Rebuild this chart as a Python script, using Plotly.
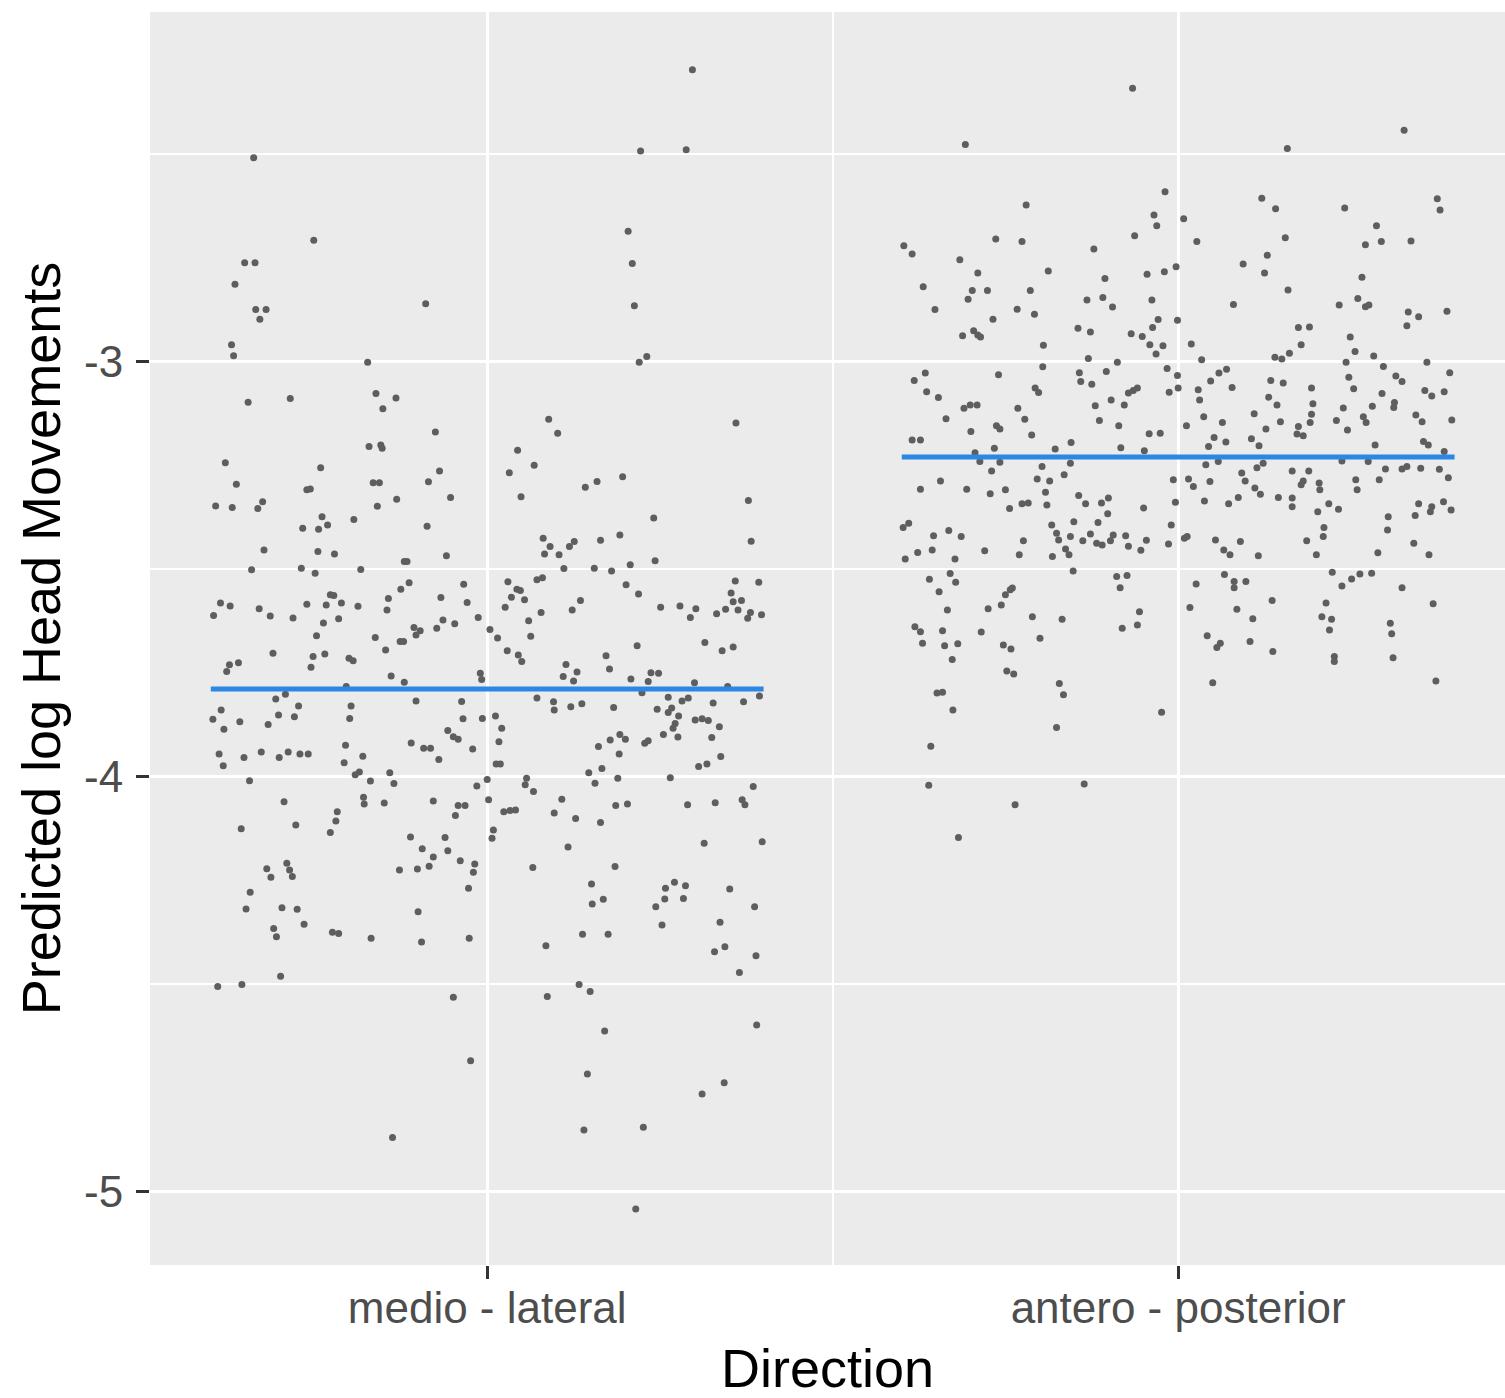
import plotly.graph_objects as go

# Categories on the x axis and the fitted (model) mean for each
directions = ["medio - lateral", "antero - posterior"]
fitted_means = [-3.788, -3.229]
fit_half_width = 0.4

y_ticks = [-5, -4, -3]
y_tick_labels = ["-5", "-4", "-3"]

# medio - lateral: horizontal jitter offset and predicted value per subject
ml_jitter = [
    -0.338, -0.251, -0.351, -0.336, -0.365, -0.335, -0.320, -0.329, -0.089, 0.297, 0.222, 0.288, 0.204, 0.210, 0.213,
    -0.370, -0.367, -0.173, -0.346, -0.285, -0.161, -0.132, -0.151, -0.075, -0.171,
    -0.154, -0.152, -0.379, -0.241, -0.069, -0.363, -0.261, -0.256, -0.165, -0.156,
    -0.085, -0.053, -0.393, -0.369, -0.332, -0.325, -0.159, -0.131, -0.239, -0.231,
    -0.267, -0.244, -0.193, -0.087, -0.323, -0.245, -0.221, -0.120, -0.116, -0.059,
    -0.341, -0.269, -0.249, -0.183, -0.113, -0.125, -0.034, -0.386, -0.372, -0.396,
    -0.330, -0.314, -0.281, -0.261, -0.227, -0.222, -0.233, -0.211, -0.187, -0.143,
    -0.145, -0.237, -0.215, -0.247, -0.162, -0.126, -0.121, -0.106, -0.097, -0.103,
    -0.067, -0.029, -0.073, -0.064, -0.047, -0.013,
    0.220, 0.231, 0.089, 0.102, 0.044, 0.068, 0.032, 0.049, 0.142, 0.159,
    0.196, 0.360, 0.378, 0.241, 0.382, 0.081, 0.091, 0.083, 0.104, 0.119,
    0.126, 0.164, 0.192, 0.111, 0.155, 0.180, 0.207, 0.243, 0.072, 0.080,
    0.030, 0.043, 0.048, 0.035, 0.054, 0.026, 0.078, 0.060, 0.123, 0.135,
    0.201, 0.219, 0.251, 0.279, 0.302, 0.294, 0.332, 0.359, 0.393, 0.353,
    0.356, 0.368, 0.345, 0.363, 0.381, 0.377, 0.397, 0.004, 0.015, 0.063,
    -0.310, -0.252, -0.255, -0.235, -0.200, -0.194, -0.147, -0.377, -0.373, -0.360,
    -0.139, -0.120, -0.010, -0.008, -0.306, -0.292, -0.204, -0.103, -0.037, -0.385,
    -0.397, -0.358, -0.381, -0.302, -0.273, -0.279, -0.317, -0.197, -0.199, -0.035,
    -0.007, -0.057, -0.049, -0.042, -0.205, -0.110, -0.092, -0.082, -0.070, -0.021,
    -0.388, -0.382, -0.352, -0.327, -0.301, -0.288, -0.271, -0.259, -0.180, -0.207,
    -0.191, -0.185, -0.169, -0.141, -0.135, -0.344, -0.015, -0.294, -0.179, -0.178,
    -0.149, -0.078, -0.042, -0.032, -0.046, -0.217, -0.219, -0.227, -0.277, -0.356,
    -0.111, -0.061, -0.094, -0.057, -0.078, -0.084, -0.101, -0.127, -0.039, -0.018,
    -0.020, -0.319, -0.313, -0.290, -0.286, -0.282, -0.343, -0.027, -0.349, -0.297,
    -0.275, -0.265, -0.100, -0.309, -0.305, -0.224, -0.215, -0.168, -0.026,
    0.029, 0.045, 0.050, 0.217, 0.172, 0.177, 0.114, 0.110, 0.125, 0.130,
    0.208, 0.237, 0.248, 0.233, 0.315, 0.340, 0.356, 0.300, 0.348, 0.224,
    0.072, 0.096, 0.097, 0.121, 0.137, 0.183, 0.262, 0.282, 0.291, 0.327,
    0.371, 0.394, 0.246, 0.262, 0.267, 0.277, 0.272, 0.269, 0.301, 0.311,
    0.320, 0.336, 0.255, 0.276, 0.325, 0.012, 0.021, 0.017, 0.013, 0.019,
    0.161, 0.178, 0.192, 0.200, 0.191, 0.228, 0.233, 0.306, 0.318, 0.338,
    0.147, 0.166, 0.156, 0.189, 0.265, 0.057, 0.055, 0.067, 0.000, 0.002,
    0.024, 0.033, 0.041, 0.108, 0.097, 0.128, 0.164, 0.186, 0.203, 0.290,
    0.330, 0.369, 0.373, 0.385, 0.009, 0.007, 0.117, 0.314, 0.398, 0.066,
    0.185, 0.151, 0.152, 0.168, 0.258, 0.271, 0.287, 0.257, 0.284, 0.244,
    0.351, 0.387, 0.253, 0.337, 0.138, 0.175,
    -0.095, -0.390, -0.355, -0.299, -0.049, -0.024, -0.137, 0.085, 0.329, 0.344,
    0.389, 0.365, 0.133, 0.149, 0.087, 0.170, 0.390, 0.145, 0.311, 0.343,
    0.140, 0.226, 0.215,
]
ml_value = [
    -2.508, -2.707, -2.761, -2.761, -2.813, -2.874, -2.874, -2.897, -2.860, -2.296, -2.492, -2.489, -2.685, -2.763, -2.865,
    -2.959, -2.985, -3.001, -3.097, -3.088, -3.076, -3.087, -3.113, -3.169, -3.204,
    -3.200, -3.208, -3.243, -3.255, -3.263, -3.295, -3.308, -3.306, -3.291, -3.291,
    -3.289, -3.327, -3.347, -3.351, -3.353, -3.337, -3.348, -3.331, -3.373, -3.393,
    -3.401, -3.403, -3.380, -3.396, -3.453, -3.457, -3.463, -3.481, -3.481, -3.467,
    -3.501, -3.497, -3.509, -3.500, -3.532, -3.548, -3.536, -3.581, -3.588, -3.611,
    -3.595, -3.612, -3.617, -3.584, -3.561, -3.563, -3.586, -3.581, -3.589, -3.570,
    -3.598, -3.629, -3.619, -3.660, -3.664, -3.674, -3.674, -3.640, -3.648, -3.658,
    -3.568, -3.580, -3.642, -3.622, -3.631, -3.616,
    -3.001, -2.987, -3.138, -3.172, -3.213, -3.249, -3.267, -3.325, -3.302, -3.288,
    -3.277, -3.147, -3.334, -3.376, -3.432, -3.425, -3.445, -3.463, -3.465, -3.445,
    -3.433, -3.430, -3.417, -3.498, -3.497, -3.504, -3.489, -3.479, -3.525, -3.520,
    -3.530, -3.548, -3.551, -3.567, -3.573, -3.591, -3.604, -3.624, -3.598, -3.575,
    -3.537, -3.559, -3.591, -3.588, -3.595, -3.616, -3.607, -3.528, -3.531, -3.557,
    -3.578, -3.575, -3.596, -3.598, -3.604, -3.618, -3.609, -3.645, -3.665, -3.661,
    -3.702, -3.710, -3.736, -3.704, -3.714, -3.720, -3.694, -3.746, -3.730, -3.725,
    -3.757, -3.772, -3.750, -3.765, -3.812, -3.801, -3.782, -3.817, -3.818, -3.839,
    -3.861, -3.867, -3.885, -3.851, -3.829, -3.855, -3.874, -3.829, -3.859, -3.860,
    -3.859, -3.888, -3.903, -3.909, -3.924, -3.918, -3.931, -3.931, -3.958, -3.933,
    -3.945, -3.973, -3.953, -3.940, -3.953, -3.940, -3.945, -3.945, -3.950, -3.966,
    -3.995, -3.988, -4.010, -3.990, -4.016, -4.009, -4.022, -4.060, -4.049, -4.065,
    -4.063, -4.058, -4.069, -4.069, -4.093, -4.084, -4.106, -4.134, -4.116, -4.125,
    -4.145, -4.146, -4.173, -4.178, -4.193, -4.215, -4.222, -4.224, -4.202, -4.210,
    -4.230, -4.221, -4.242, -4.208, -4.224, -4.240, -4.278, -4.268, -4.318, -4.315,
    -4.319, -4.355, -4.325, -4.365, -4.385, -4.374, -4.377, -4.389, -4.389,
    -3.696, -3.706, -3.722, -3.684, -3.708, -3.740, -3.729, -3.758, -3.769, -3.747,
    -3.764, -3.749, -3.750, -3.770, -3.676, -3.696, -3.687, -3.773, -3.782, -3.797,
    -3.810, -3.819, -3.839, -3.831, -3.824, -3.833, -3.808, -3.817, -3.810, -3.822,
    -3.819, -3.805, -3.837, -3.845, -3.834, -3.853, -3.871, -3.883, -3.863, -3.860,
    -3.864, -3.879, -3.898, -3.904, -3.905, -3.853, -3.883, -3.915, -3.969, -3.969,
    -3.927, -3.911, -3.898, -3.909, -3.945, -3.919, -3.913, -3.975, -3.969, -3.951,
    -3.990, -3.980, -4.015, -4.003, -4.002, -4.003, -4.019, -4.035, -4.006, -4.055,
    -4.084, -4.081, -4.080, -4.054, -4.087, -4.100, -4.110, -4.069, -4.065, -4.067,
    -4.062, -4.055, -4.067, -4.023, -4.128, -4.148, -4.169, -4.160, -4.156, -4.218,
    -4.216, -4.258, -4.306, -4.295, -4.268, -4.254, -4.262, -4.294, -4.293, -4.313,
    -4.270, -4.313, -4.357, -4.350, -4.379, -4.379,
    -4.398, -4.505, -4.500, -4.480, -4.531, -4.684, -4.869, -4.407, -4.421, -4.409,
    -4.431, -4.471, -4.500, -4.517, -4.529, -4.612, -4.598, -4.716, -4.764, -4.737,
    -4.851, -4.844, -5.041,
]

# antero - posterior: horizontal jitter offset and predicted value per subject
ap_jitter = [
    -0.066, -0.308, -0.019, -0.220, -0.035, -0.031, -0.063, -0.264, -0.226, -0.397,
    -0.385, -0.122, -0.316, -0.290, -0.188, -0.106, -0.045, -0.020, -0.003, -0.369,
    -0.298, -0.304, -0.276, -0.214, -0.132, -0.109, -0.095, -0.038, -0.352, -0.233,
    -0.208, -0.268, -0.001, -0.029, -0.037, -0.145, -0.127, -0.068, -0.052, -0.041,
    -0.022, -0.032, -0.312, -0.296, -0.290, -0.286, -0.195, -0.196, -0.130, -0.088,
    -0.016, -0.001, -0.366, -0.382, -0.260, -0.143, -0.141, -0.125, -0.104, -0.364,
    -0.347, -0.207, -0.202, -0.072, -0.065, -0.059, -0.013, 0.000, -0.310, -0.301,
    -0.291, -0.232, -0.120, -0.097, -0.078, -0.336, -0.222, -0.114, -0.263, -0.258,
    -0.300, -0.212, -0.086, -0.042, -0.026, -0.385, -0.373, -0.155, -0.294, -0.266,
    -0.178, -0.083, -0.049,
    0.327, 0.158, 0.121, 0.141, 0.241, 0.375, 0.379, 0.008, 0.027, 0.155,
    0.287, 0.271, 0.294, 0.337, 0.129, 0.094, 0.125, 0.266, 0.159, 0.260,
    0.271, 0.276, 0.080, 0.233, 0.333, 0.348, 0.331, 0.389, 0.174, 0.190,
    0.019, 0.249, 0.178, 0.140, 0.150, 0.161, 0.256, 0.283, 0.034, 0.243,
    0.297, 0.360, 0.059, 0.070, 0.047, 0.134, 0.152, 0.247, 0.315, 0.324,
    0.393, 0.029, 0.031, 0.078, 0.193, 0.254, 0.295, 0.357, 0.367, 0.385,
    0.131, 0.143, 0.195, 0.239, 0.281, 0.313, 0.312, 0.037, 0.110, 0.012,
    0.064, 0.148, 0.127, 0.193, 0.191, 0.174, 0.172, 0.181, 0.229, 0.245,
    0.268, 0.272, 0.344, 0.353, 0.396, 0.052, 0.044, 0.069, 0.106, 0.117,
    0.285, 0.355, 0.362, 0.385,
    -0.287, -0.258, -0.270, -0.197, -0.156, -0.344, -0.204, -0.186, -0.165, -0.373,
    -0.306, -0.272, -0.250, -0.192, -0.007, -0.244, -0.226, -0.217, -0.190, -0.144,
    -0.134, -0.111, -0.101, -0.102, -0.050, -0.004, -0.398, -0.390, -0.354, -0.332,
    -0.314, -0.377, -0.395, -0.356, -0.323, -0.280, -0.224, -0.230, -0.183, -0.176,
    -0.173, -0.151, -0.156, -0.182, -0.163, -0.158, -0.138, -0.127, -0.116, -0.118,
    -0.110, -0.098, -0.094, -0.076, -0.072, -0.054, -0.046, -0.014, -0.010, -0.152,
    -0.360, -0.330, -0.322, -0.346, -0.089, -0.074, -0.084, -0.250, -0.243, -0.240,
    -0.256, -0.275, -0.334, -0.211, -0.168, -0.056, -0.059, -0.081, -0.381, -0.373,
    -0.370, -0.341, -0.338, -0.319, -0.285, -0.253, -0.242, -0.200, -0.327, -0.248,
    -0.238, -0.172, -0.166, -0.349, -0.341, -0.326, -0.024, -0.176, -0.358, -0.361,
    -0.136, -0.236, -0.318,
    0.040, 0.058, 0.114, 0.123, 0.165, 0.189, 0.181, 0.178, 0.237, 0.275,
    0.300, 0.324, 0.331, 0.351, 0.378, 0.391, 0.015, 0.022, 0.046, 0.092,
    0.097, 0.111, 0.119, 0.204, 0.205, 0.257, 0.259, 0.291, 0.038, 0.073,
    0.087, 0.145, 0.165, 0.165, 0.202, 0.218, 0.232, 0.304, 0.303, 0.348,
    0.343, 0.367, 0.365, 0.384, 0.395, 0.013, 0.009, 0.054, 0.090, 0.066,
    0.075, 0.116, 0.186, 0.211, 0.210, 0.200, 0.289, 0.341, 0.363, 0.026,
    0.067, 0.081, 0.081, 0.098, 0.223, 0.237, 0.251, 0.263, 0.280, 0.324,
    0.136, 0.017, 0.085, 0.108, 0.214, 0.208, 0.222, 0.219, 0.369, 0.307,
    0.309, 0.042, 0.056, 0.061, 0.104, 0.137, 0.226, 0.226, 0.311, 0.050,
    0.373,
]
ap_value = [
    -2.341, -2.476, -2.590, -2.622, -2.646, -2.672, -2.696, -2.704, -2.710, -2.720,
    -2.740, -2.728, -2.754, -2.786, -2.781, -2.799, -2.789, -2.783, -2.771, -2.819,
    -2.828, -2.849, -2.828, -2.828, -2.851, -2.845, -2.868, -2.851, -2.874, -2.873,
    -2.885, -2.897, -2.900, -2.898, -2.917, -2.919, -2.928, -2.932, -2.939, -2.959,
    -2.961, -2.981, -2.937, -2.925, -2.935, -2.940, -2.960, -3.012, -2.992, -3.001,
    -3.016, -3.033, -3.027, -3.045, -3.031, -3.026, -3.047, -3.054, -3.023, -3.072,
    -3.086, -3.063, -3.074, -3.075, -3.069, -3.063, -3.073, -3.063, -3.112, -3.104,
    -3.104, -3.112, -3.106, -3.092, -3.104, -3.137, -3.138, -3.141, -3.154, -3.162,
    -3.168, -3.176, -3.154, -3.173, -3.172, -3.188, -3.188, -3.194, -3.219, -3.208,
    -3.210, -3.207, -3.214,
    -2.442, -2.486, -2.606, -2.631, -2.629, -2.607, -2.634, -2.655, -2.710, -2.701,
    -2.672, -2.718, -2.710, -2.709, -2.743, -2.764, -2.786, -2.796, -2.827, -2.847,
    -2.867, -2.863, -2.862, -2.863, -2.880, -2.891, -2.913, -2.878, -2.917, -2.916,
    -2.957, -2.940, -2.959, -2.989, -2.993, -2.979, -2.975, -2.986, -2.995, -3.001,
    -3.011, -3.001, -3.027, -3.018, -3.046, -3.045, -3.051, -3.037, -3.034, -3.047,
    -3.026, -3.067, -3.092, -3.062, -3.063, -3.065, -3.076, -3.069, -3.082, -3.072,
    -3.085, -3.104, -3.101, -3.111, -3.107, -3.098, -3.110, -3.132, -3.125, -3.154,
    -3.146, -3.144, -3.162, -3.126, -3.146, -3.156, -3.174, -3.178, -3.141, -3.164,
    -3.132, -3.146, -3.128, -3.144, -3.140, -3.182, -3.204, -3.193, -3.185, -3.202,
    -3.200, -3.192, -3.200, -3.216,
    -3.240, -3.242, -3.263, -3.252, -3.244, -3.287, -3.282, -3.287, -3.272, -3.307,
    -3.307, -3.318, -3.308, -3.314, -3.284, -3.353, -3.342, -3.340, -3.345, -3.322,
    -3.342, -3.340, -3.328, -3.366, -3.352, -3.338, -3.399, -3.389, -3.419, -3.406,
    -3.421, -3.459, -3.475, -3.453, -3.475, -3.455, -3.431, -3.465, -3.393, -3.413,
    -3.429, -3.385, -3.421, -3.469, -3.451, -3.465, -3.431, -3.415, -3.387, -3.437,
    -3.441, -3.431, -3.417, -3.419, -3.444, -3.454, -3.430, -3.439, -3.393, -3.504,
    -3.524, -3.510, -3.531, -3.554, -3.517, -3.515, -3.544, -3.561, -3.549, -3.545,
    -3.586, -3.595, -3.598, -3.614, -3.620, -3.602, -3.634, -3.642, -3.638, -3.650,
    -3.678, -3.648, -3.684, -3.679, -3.651, -3.682, -3.692, -3.666, -3.717, -3.745,
    -3.752, -3.775, -3.802, -3.798, -3.796, -3.839, -3.844, -3.881, -3.926, -4.020,
    -4.017, -4.067, -4.146,
    -3.248, -3.240, -3.255, -3.244, -3.263, -3.263, -3.287, -3.296, -3.239, -3.240,
    -3.258, -3.258, -3.252, -3.256, -3.259, -3.279, -3.282, -3.300, -3.288, -3.268,
    -3.287, -3.304, -3.319, -3.292, -3.308, -3.284, -3.308, -3.284, -3.335, -3.342,
    -3.327, -3.327, -3.328, -3.349, -3.361, -3.342, -3.355, -3.373, -3.405, -3.342,
    -3.370, -3.349, -3.361, -3.337, -3.357, -3.421, -3.425, -3.429, -3.433, -3.453,
    -3.465, -3.467, -3.431, -3.399, -3.421, -3.465, -3.460, -3.437, -3.465, -3.535,
    -3.512, -3.529, -3.544, -3.529, -3.507, -3.540, -3.523, -3.511, -3.509, -3.544,
    -3.575, -3.592, -3.596, -3.619, -3.581, -3.614, -3.620, -3.646, -3.583, -3.630,
    -3.655, -3.660, -3.688, -3.678, -3.674, -3.698, -3.710, -3.722, -3.713, -3.773,
    -3.769,
]

assert len(ml_jitter) == len(ml_value)
assert len(ap_jitter) == len(ap_value)

POINT_COLOR = "#5E5E5E"
FIT_COLOR = "#2B87E3"
PANEL_BG = "#EBEBEB"
FONT = "Liberation Sans, Arial, Helvetica, sans-serif"

fig = go.Figure()

# jittered points, one trace per direction
for pos, (jit, vals) in enumerate([(ml_jitter, ml_value), (ap_jitter, ap_value)], start=1):
    fig.add_trace(go.Scatter(
        x=[pos + j for j in jit],
        y=vals,
        mode="markers",
        marker=dict(size=7, color=POINT_COLOR, line=dict(width=0)),
        hoverinfo="skip",
        showlegend=False,
    ))

# fitted mean per direction, drawn across the jitter width
for pos, mean in enumerate(fitted_means, start=1):
    fig.add_trace(go.Scatter(
        x=[pos - fit_half_width, pos + fit_half_width],
        y=[mean, mean],
        mode="lines",
        line=dict(color=FIT_COLOR, width=5),
        hoverinfo="skip",
        showlegend=False,
    ))

fig.update_layout(
    width=1505,
    height=1398,
    margin=dict(l=150, r=0, t=12, b=133),
    paper_bgcolor="white",
    plot_bgcolor=PANEL_BG,
    font=dict(family=FONT),
    xaxis=dict(
        range=[0.512, 2.473],
        tickmode="array",
        tickvals=[1, 2],
        ticktext=directions,
        showgrid=True,
        gridcolor="white",
        gridwidth=3,
        zeroline=False,
        showline=False,
        ticks="outside",
        ticklen=13,
        tickwidth=3,
        tickcolor="#333333",
        ticklabelstandoff=-9,
        tickfont=dict(size=44, color="#4D4D4D", family=FONT),
        minor=dict(tickvals=[1.5], showgrid=True, gridcolor="white", gridwidth=1.5, ticks=""),
        title=dict(text="Direction", font=dict(size=54, color="black", family=FONT), standoff=20),
        automargin=False,
    ),
    yaxis=dict(
        range=[-5.176, -2.157],
        tickmode="array",
        tickvals=y_ticks,
        ticktext=y_tick_labels,
        showgrid=True,
        gridcolor="white",
        gridwidth=3,
        zeroline=False,
        showline=False,
        ticks="outside",
        ticklen=13,
        tickwidth=3,
        tickcolor="#333333",
        ticklabelstandoff=4,
        tickfont=dict(size=44, color="#4D4D4D", family=FONT),
        minor=dict(tickvals=[-4.5, -3.5, -2.5], showgrid=True, gridcolor="white", gridwidth=1.5, ticks=""),
        title=dict(text="Predicted log Head Movements", font=dict(size=54, color="black", family=FONT), standoff=6),
        automargin=False,
    ),
)

fig.write_html("out.html")
